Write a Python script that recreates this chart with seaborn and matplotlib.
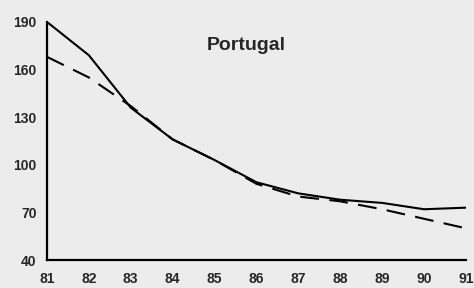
import numpy as np
import pandas as pd
import matplotlib
matplotlib.use('Agg')
import matplotlib.pyplot as plt
import seaborn as sns

# 数据：实际值与拟合值
years = [81, 82, 83, 84, 85, 86, 87, 88, 89, 90, 91]
actual = [190, 169, 136, 116, 103, 89, 82, 78, 76, 72, 73]
fitted = [168, 155, 137, 116, 103, 88, 80, 77, 72, 66, 60]
yticks = [40, 70, 100, 130, 160, 190]

sns.set_style('white')
plt.rcParams['font.family'] = ['Liberation Sans', 'DejaVu Sans']

df = pd.DataFrame({'year': years, 'actual': actual, 'fitted': fitted})

fig = plt.figure(figsize=(4.74, 2.88), dpi=100, facecolor='#ececec')
ax = fig.add_axes([0.099, 0.097, 0.884, 0.827])
ax.set_facecolor('#ececec')

sns.lineplot(x='year', y='actual', data=df, ax=ax, color='black', lw=1.5)
sns.lineplot(x='year', y='fitted', data=df, ax=ax, color='black', lw=1.5,
             linestyle=(0, (9, 5)))

ax.set_xlim(81, 91)
ax.set_ylim(40, 190)
ax.set_xticks(years)
ax.set_yticks(yticks)
ax.set_xlabel('')
ax.set_ylabel('')
ax.tick_params(direction='inout', length=5, width=1.2, labelsize=10)
ax.tick_params(axis='x', pad=6)
ax.tick_params(axis='y', pad=5)
for lab in ax.get_xticklabels() + ax.get_yticklabels():
    lab.set_fontweight('bold')
for s in ['top', 'right']:
    ax.spines[s].set_visible(False)
for s in ['left', 'bottom']:
    ax.spines[s].set_linewidth(1.6)
    ax.spines[s].set_color('black')

ax.text(0.475, 0.9, 'Portugal', transform=ax.transAxes, ha='center', va='center',
        fontsize=14, fontweight='bold')

plt.savefig('out.png', dpi=100, facecolor=fig.get_facecolor())
